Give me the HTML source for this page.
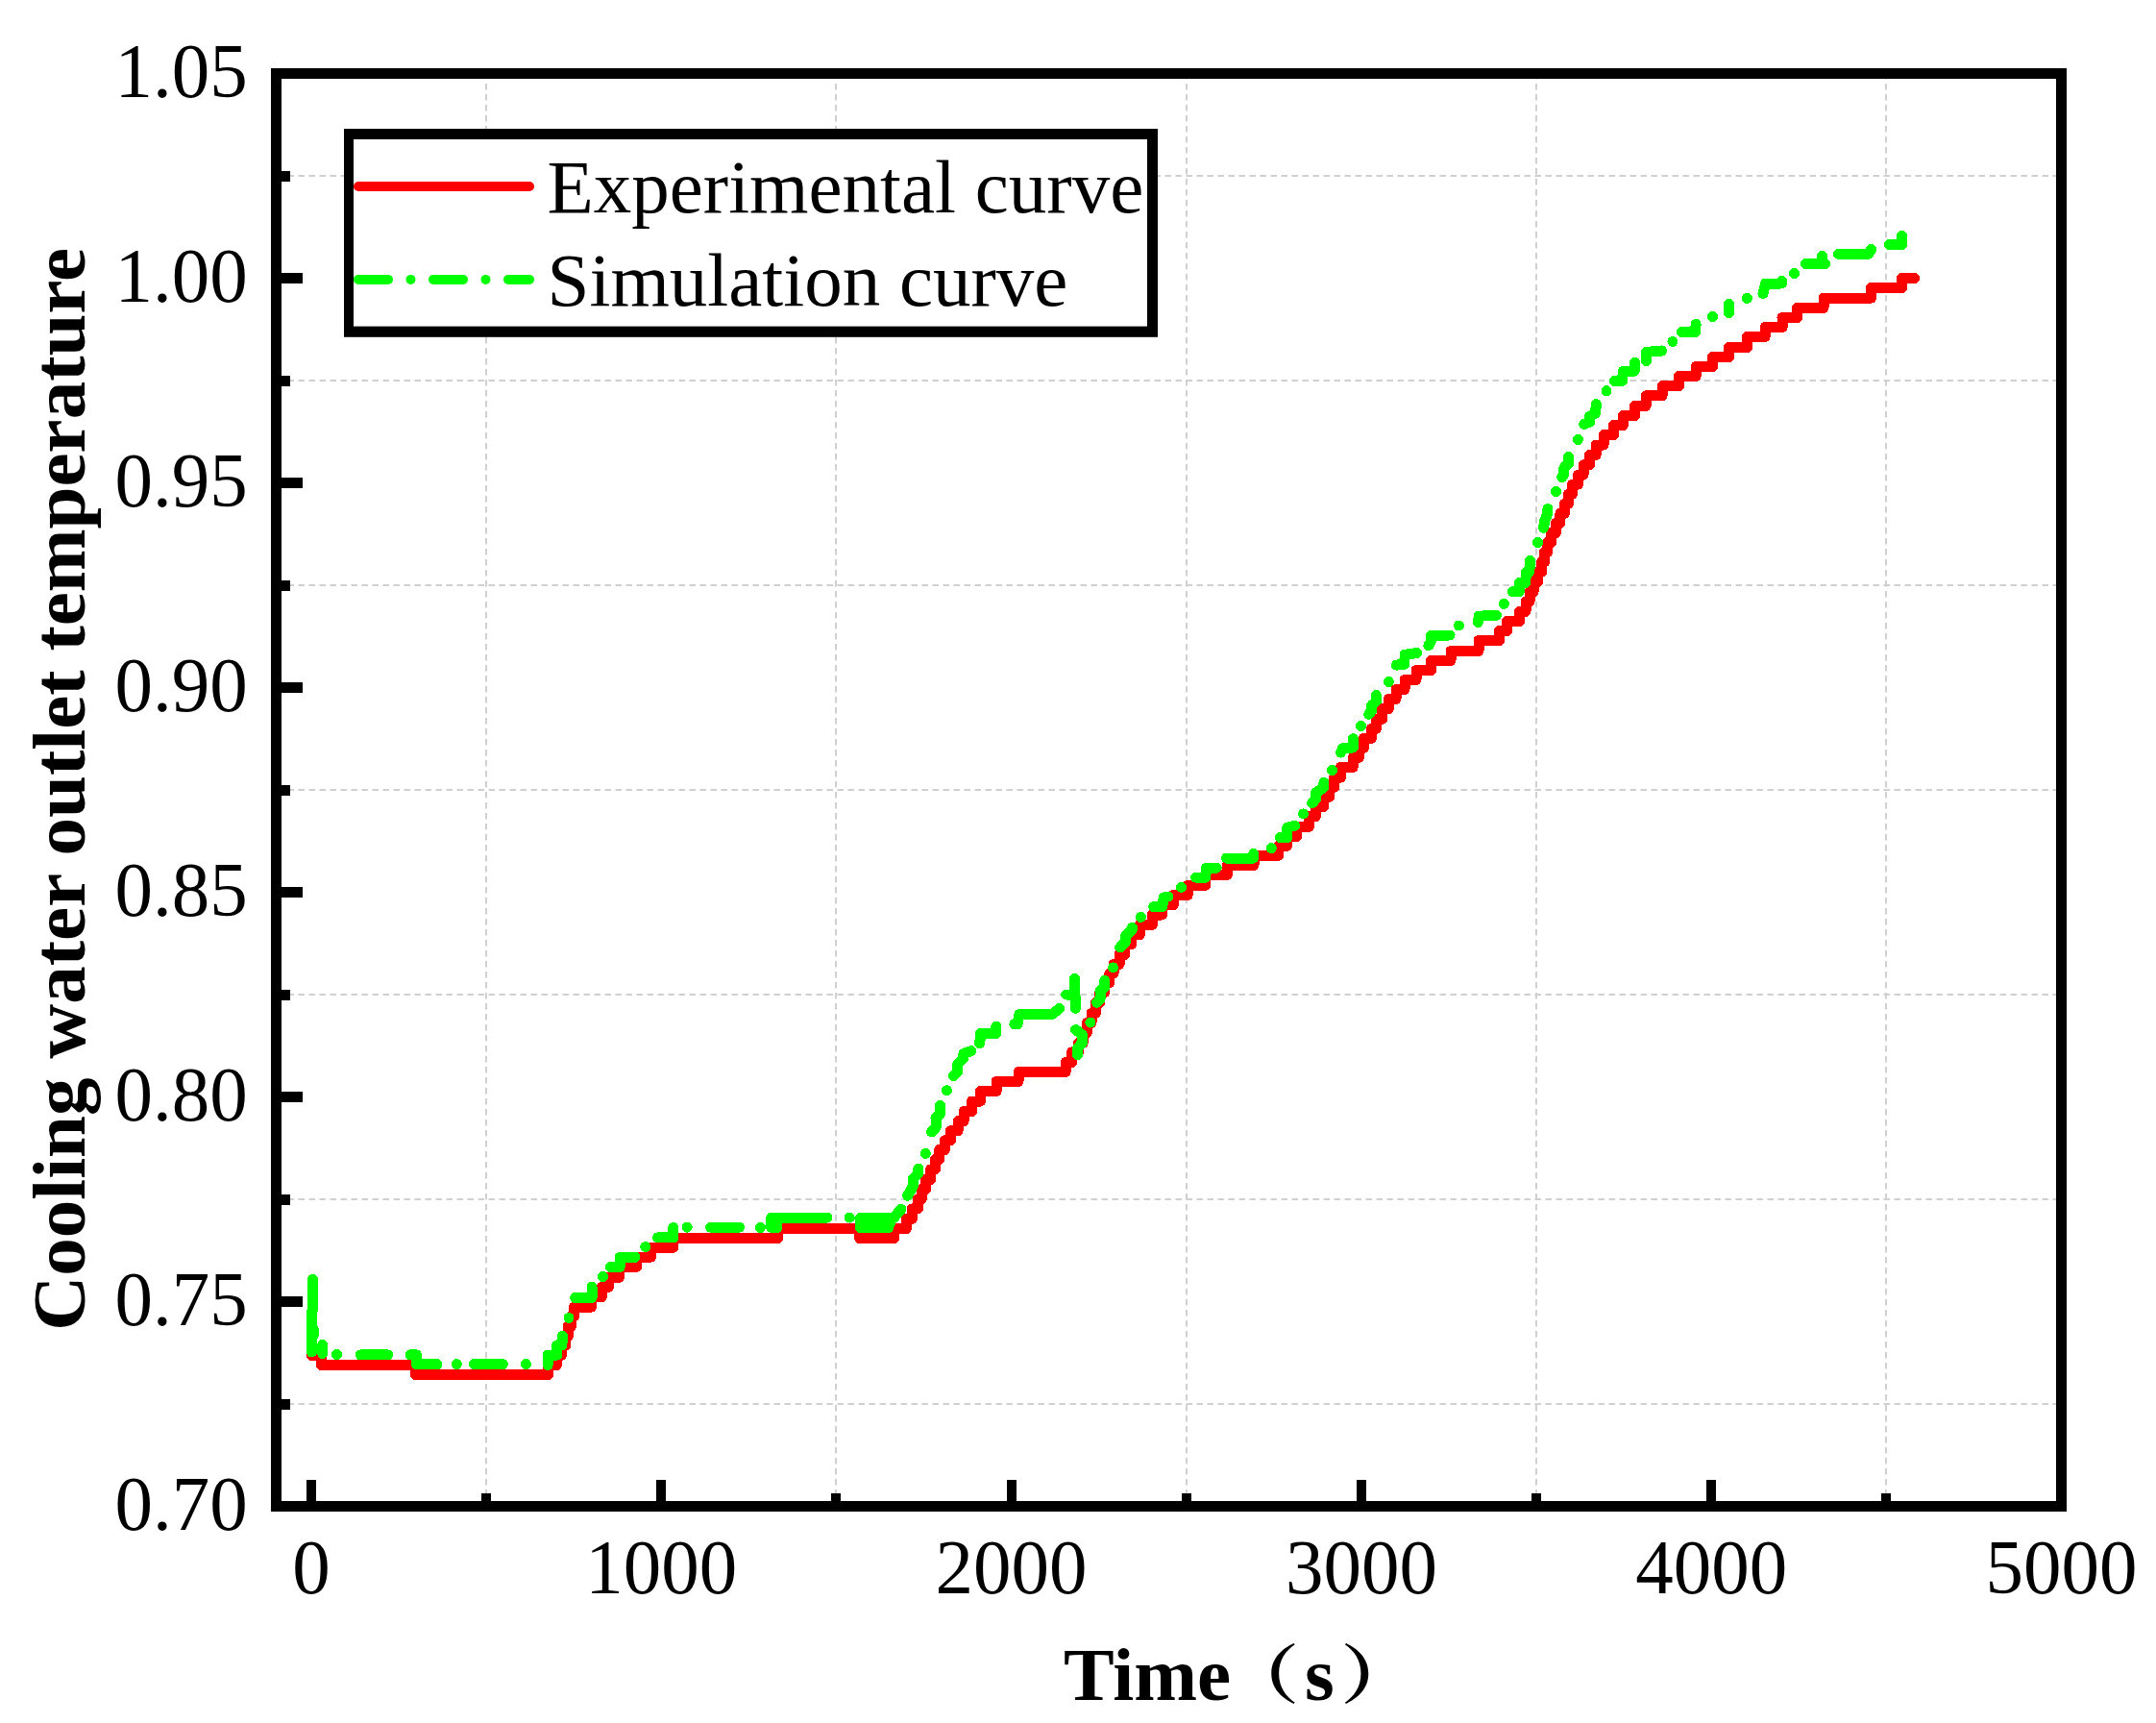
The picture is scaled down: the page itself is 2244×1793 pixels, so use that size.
<!DOCTYPE html>
<html lang="en"><head><meta charset="utf-8"><title>Cooling water outlet temperature</title>
<style>html,body{margin:0;padding:0;background:#fff}body{width:2244px;height:1793px;overflow:hidden}svg{display:block}
text{font-family:"Liberation Serif","Noto Serif CJK SC",serif;font-size:79px;fill:#000}.b{font-weight:bold}.p{font-size:66.5px}</style></head><body>
<svg width="2244" height="1793" viewBox="0 0 2244 1793">
<rect width="2244" height="1793" fill="#fff"/>
<g stroke="#d0d0d0" stroke-width="2" stroke-dasharray="6.5 4.5" fill="none"><path d="M506 76V1562"/><path d="M870 76V1562"/><path d="M1235 76V1562"/><path d="M1599 76V1562"/><path d="M1963 76V1562"/><path d="M288.5 1461H2140"/><path d="M288.5 1248H2140"/><path d="M288.5 1035H2140"/><path d="M288.5 822H2140"/><path d="M288.5 609H2140"/><path d="M288.5 396H2140"/><path d="M288.5 183H2140"/></g>
<g stroke="#000" stroke-width="11" fill="none" shape-rendering="crispEdges"><path d="M287.5 1567.5H315"/><path d="M287.5 1354.5H315"/><path d="M287.5 1141.5H315"/><path d="M287.5 928.5H315"/><path d="M287.5 715.5H315"/><path d="M287.5 502.5H315"/><path d="M287.5 289.5H315"/><path d="M287.5 76.5H315"/><path d="M287.5 1461.5H302"/><path d="M287.5 1248.5H302"/><path d="M287.5 1035.5H302"/><path d="M287.5 822.5H302"/><path d="M287.5 609.5H302"/><path d="M287.5 396.5H302"/><path d="M287.5 183.5H302"/></g><g stroke="#000" stroke-width="10" fill="none" shape-rendering="crispEdges"><path d="M324 1567.5V1540"/><path d="M688 1567.5V1540"/><path d="M1053 1567.5V1540"/><path d="M1417 1567.5V1540"/><path d="M1781 1567.5V1540"/><path d="M506 1567.5V1554"/><path d="M870 1567.5V1554"/><path d="M1235 1567.5V1554"/><path d="M1599 1567.5V1554"/><path d="M1963 1567.5V1554"/></g>
<path d="M324.5 1410.4H334.5V1420.5H432.5V1430.5H570.5V1420.5H579.4V1410.4H584.4V1400.3H588.5V1390.2H591.3V1380.1H594.4V1370H597.5V1360.2H615.4V1349.5H626.4V1339.4H633.3V1329.4H644.4V1318.3H662.5V1308.2H677.5V1298.3H700.5V1288.5H809.6V1278.5H894.7V1288.5H930.7V1278.5H943.4V1268.4H949.4V1257.9H955.4V1247.7H959.3V1237.6H963.4V1227.4H968.7V1216.8H973.4V1206.5H977.7V1196.5H983.3V1186.7H989.5V1176.7H997V1166.7H1003V1156.6H1011.5V1146H1020.5V1135.6H1037V1125.4H1060V1115.6H1109V1105.6H1115.6V1094.9H1122.6V1085.6H1127V1074.6H1131.3V1064.4H1136V1054.4H1140.4V1043.5H1144.5V1033H1149.5V1022.5H1154.8V1013.2H1159V1003.5H1165V993.5H1170.7V982.8H1177.7V972.5H1186.3V962.3H1199.3V952H1209.4V941.8H1221.2V931.5H1236.1V921.3H1254.5V910.4H1277.4V900.4H1305V890.3H1330.5V880.4H1339.4V870.4H1349.5V860.3H1362.4V849.8H1369.3V839.4H1377.5V829.3H1383.5V819.2H1388.7V809.2H1395.4V798.4H1408.2V788.4H1414.3V778.4H1419.4V768.4H1427.3V758.3H1432.3V748.3H1438.5V737.5H1445.4V727.4H1453V717.4H1462V707.4H1474V697.4H1489.5V687.4H1510V677.4H1539V666.4H1560.5V656.4H1568.5V646.4H1581.5V636.3H1588V626H1592V615.8H1596V605.6H1600.4V595.3H1604.5V585H1607.5V574.8H1610.5V564.6H1614.5V554.5H1619.4V544.4H1623.9V534.3H1628.3V524.2H1632.5V514.2H1636.5V504.2H1642.4V494.2H1648V483.8H1654.5V473.6H1661V463H1669V452.7H1679.4V442.6H1689.2V432.6H1701.5V422.5H1713V411.8H1730V401.7H1747.4V391.6H1765V381.6H1782.4V371.6H1799.5V361.6H1818.5V350.6H1837V340.6H1855V330.5H1870.5V320.4H1898V310.2H1947.5V299.5H1979.5V289.4H1992.6" fill="none" stroke="#ff0000" stroke-width="11" stroke-linejoin="round" stroke-linecap="round" shape-rendering="crispEdges"/>
<path d="M325.4 1331.3L325.4 1363L324.4 1366L324.4 1407M326.5 1384L326.5 1389M335.7 1399.5L335.7 1408.5M350.5 1409.6h0M375.3 1409.9L403.7 1409.9M427 1409.9L433.4 1409.9L433.4 1419.7L455 1419.7M475.3 1419.6h0M493.4 1419.6L523.3 1419.6M547.4 1419.6h0M570.2 1420.5L570.2 1410.1L579.7 1410.1L579.7 1399.9L584.9 1399.9L585.4 1390.2M592 1371.4h0M598.7 1350.5L616 1350.5L616 1339M627.5 1328.6h0M635.4 1318.5L645.1 1318.5L645.1 1308.3L661 1308.3M671.8 1297.5h0M684.5 1287.9L700.8 1287.9L700.8 1277.5M715.2 1277.2h0M739.7 1277.2L769.5 1277.2M791.4 1277.5h0M802.8 1277.5L802.8 1267.1L806 1267.1L806 1277.5L808.9 1277.5L808.9 1267.1L860.8 1267.1M884.3 1267.1h0M895.5 1267.5L930 1267.5L937.9 1258.3M895.5 1277.4L925 1277.4M895.5 1272.4L927 1272.4M944.6 1244.2L950.2 1234.6L950.2 1227.1L955.8 1221.2L955.8 1216M963.3 1200.4h0M969.6 1178L974 1173.5L974 1163.5L978.6 1159L978.6 1150.5M985.4 1134.7h0M992.5 1119.6L996.9 1115.1L996.9 1106.9L1002.9 1101L1002.9 1096.5L1010.7 1093.6M1019.6 1085.8L1020.5 1079.5L1020.5 1075.4L1036.7 1075.4L1036.8 1068M1055.8 1065.8L1059 1065.8L1061 1055.7L1094.8 1055.7L1102.6 1049.5M1109.7 1035L1118.6 1035M1118.6 1018.5L1119.3 1049.3M1119.5 1071.6L1126.4 1076.8L1126.4 1084.9L1121.6 1090.9L1121.6 1097.6M1134.9 1064.1h0M1141.6 1043.3L1145 1039.6L1145 1031.5L1149.8 1027L1149.8 1020.3M1158.5 1006.9h0M1165.7 986L1171.6 980L1171.6 973.7L1178.4 967L1178.4 965.3M1187.4 954.4h0M1200.7 943.6L1209.6 943.6L1211.3 934.2L1215.8 933M1229.5 923.3h0M1244.7 913.2L1254.8 913.2L1255.4 903.3L1266.2 903.2M1276.5 893L1304.5 893L1304.6 888.6M1323.3 882.6h0M1332.5 871.6L1339.9 871.6L1339.9 861.2L1347.7 859.3M1356.5 846.9h0M1365.6 835.9L1369.7 831.4L1369.7 824.7L1377.9 819.5L1377.9 814.3M1386.5 801.5h0M1395.5 783.1L1397.5 778.7L1408.3 778L1408.3 768.7M1416.5 755.5h0M1424.7 743.4L1427.6 739.3L1427.6 734.1L1432.4 729.7L1432.4 723.6M1445.3 709.5h0M1453.4 692.1L1461.6 691.3L1462.3 681.3L1474.6 679.5M1486.9 671.7L1489.5 667.2L1489.5 661.3L1509.1 661M1518.4 651h0M1538.5 647.5L1539.2 641.2L1557.4 640.3M1565.4 628.4h0M1574.4 615.7L1581.3 615.7L1581.5 606.5L1587.6 606.5L1588.6 595.4L1591.4 595.4L1592.4 589.8L1592.4 583.5M1600.5 564.6h0M1606.5 549.3L1607.9 541.5L1610.5 534.9L1611 529.5M1619.5 511.4h0M1625.7 496.7L1627.9 492.7L1627.9 486.7L1632.5 482.3L1632.5 475.6M1642.4 457.5h0M1648.7 441.4L1654.5 439.2L1654.5 433.2L1660.6 430.3L1661.3 420.6M1672 406.7h0M1680.4 396.5L1688.6 396.2L1689.3 386.5L1701.2 386.1L1701.6 377.2M1713.5 375.4L1713.5 366.5L1729.5 365M1741 355.5h0M1750.3 345.5L1764.7 345.5L1765.1 337.3M1782.6 329.5h0M1799.5 325.5L1799.5 316.3M1818.4 310.4h0M1835 305.6L1837.5 295.2L1854.5 295L1854.5 292.6M1867.5 284.4h0M1879.5 274.4L1896.4 274.4L1896.4 266.5L1896.4 274.4L1899.6 274.4M1913.6 264.4L1944.6 264.4L1947.6 259.4M1966.5 254.4L1979.5 254.4L1979.5 245.4" fill="none" stroke="#00ff00" stroke-width="11" stroke-linejoin="round" stroke-linecap="round" shape-rendering="crispEdges"/>
<rect x="287.5" y="76.5" width="1858" height="1491" fill="none" stroke="#000" stroke-width="11"/>
<rect x="358" y="134" width="847" height="216.8" fill="#000"/><rect x="368" y="145" width="826" height="194.6" fill="#fff"/>
<path d="M373 194H551" stroke="#ff0000" stroke-width="10" stroke-linecap="round" fill="none"/>
<path d="M373 290.9H551" stroke="#00ff00" stroke-width="10" stroke-linecap="round" stroke-dasharray="31 23.5 0 23.5" fill="none"/>
<text x="569.5" y="220.7">Experimental curve</text>
<text x="569.5" y="317.5">Simulation curve</text>
<text transform="translate(257.8 1591.9) scale(1 1.025)" text-anchor="end">0.70</text>
<text transform="translate(257.8 1378.9) scale(1 1.025)" text-anchor="end">0.75</text>
<text transform="translate(257.8 1165.9) scale(1 1.025)" text-anchor="end">0.80</text>
<text transform="translate(257.8 952.9) scale(1 1.025)" text-anchor="end">0.85</text>
<text transform="translate(257.8 739.9) scale(1 1.025)" text-anchor="end">0.90</text>
<text transform="translate(257.8 526.9) scale(1 1.025)" text-anchor="end">0.95</text>
<text transform="translate(257.8 313.9) scale(1 1.025)" text-anchor="end">1.00</text>
<text transform="translate(257.8 100.9) scale(1 1.025)" text-anchor="end">1.05</text>
<text transform="translate(323.9 1658) scale(1 1.025)" text-anchor="middle">0</text>
<text transform="translate(688.2 1658) scale(1 1.025)" text-anchor="middle">1000</text>
<text transform="translate(1052.6 1658) scale(1 1.025)" text-anchor="middle">2000</text>
<text transform="translate(1416.9 1658) scale(1 1.025)" text-anchor="middle">3000</text>
<text transform="translate(1781.2 1658) scale(1 1.025)" text-anchor="middle">4000</text>
<text transform="translate(2145.5 1658) scale(1 1.025)" text-anchor="middle">5000</text>
<text class="b" x="1107" y="1769.3">Time</text>
<text class="b p" transform="translate(1270.8 1767.3) scale(1.23 1)">（</text>
<text class="b" x="1358" y="1769.3">s</text>
<text class="b p" transform="translate(1395 1767.3) scale(1.23 1)">）</text>
<text class="b" transform="translate(88.2 821.4) rotate(-90)" text-anchor="middle">Cooling water outlet temperature</text>
</svg></body></html>
